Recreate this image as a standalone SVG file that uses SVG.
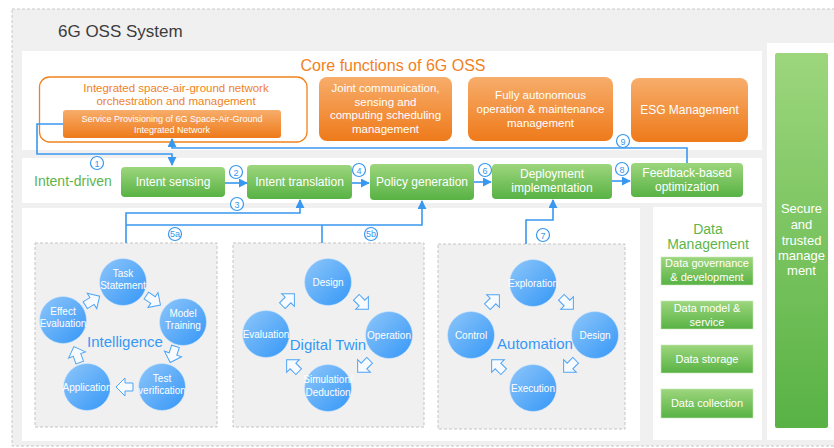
<svg xmlns="http://www.w3.org/2000/svg" width="834" height="448" viewBox="0 0 834 448">
<defs>
<linearGradient id="gOr" x1="0" y1="0" x2="0" y2="1"><stop offset="0" stop-color="#f7ad6b"/><stop offset="1" stop-color="#ee7a1a"/></linearGradient>
<linearGradient id="gGr" x1="0" y1="0" x2="0" y2="1"><stop offset="0" stop-color="#9dd67d"/><stop offset="1" stop-color="#58b244"/></linearGradient>
<linearGradient id="gBl" x1="0" y1="0" x2="1" y2="1"><stop offset="0" stop-color="#8ec6fa"/><stop offset="1" stop-color="#3597f7"/></linearGradient>
<marker id="ar" viewBox="0 0 10 10" refX="9" refY="5" markerWidth="9" markerHeight="9" markerUnits="userSpaceOnUse" orient="auto"><path d="M0,0 L10,5 L0,10 z" fill="#3898f0"/></marker>
<path id="ha" d="M-8,-4 H0 V-9 L9,0 L0,9 V4 H-8 Z"/>
</defs>
<style>
.t{font-family:"Liberation Sans",Arial,sans-serif}
.or{fill:url(#gOr)}
.gr{fill:url(#gGr)}
.bl{fill:url(#gBl);stroke:#cfe5fb;stroke-width:0.6}
.wt{fill:#ffffff;text-anchor:middle}
.gt{fill:#ffffff;text-anchor:middle;font-size:12px}
.ct{fill:#ffffff;text-anchor:middle;font-size:10px}
.lab{fill:#3598f5;text-anchor:middle;font-size:15px}
.ln{fill:none;stroke:#3898f0;stroke-width:1.6}
.num circle{fill:#ffffff;stroke:#3898f0;stroke-width:1.2}
.num text{fill:#3898f0;text-anchor:middle;font-size:9px;font-family:"Liberation Sans",Arial,sans-serif}
.hol{fill:#f7fbff;stroke:#4fa4f4;stroke-width:1}
.dash{fill:#f0f0f0;stroke:#c4c4c4;stroke-width:1;stroke-dasharray:3,2}
</style>
<rect x="0" y="0" width="834" height="448" fill="#ffffff"/>
<rect x="12" y="9" width="830" height="437" fill="#f0f0f0" stroke="#c8c8c8" stroke-dasharray="3,2"/>
<text class="t" x="58" y="37" font-size="17" fill="#3c3c3c">6G OSS System</text>

<g id="core-panel">
<rect x="22" y="51" width="740" height="99" fill="#ffffff"/>
<text class="t" x="393" y="71" font-size="16" fill="#f0821e" text-anchor="middle">Core functions of 6G OSS</text>
</g>
<g id="orchestration">
<rect x="39.5" y="77" width="267.5" height="65" rx="10" fill="#ffffff" stroke="#f0821e" stroke-width="1.3"/>
<text class="t" x="176" y="92" font-size="11.5" fill="#f0821e" text-anchor="middle">Integrated space-air-ground network</text>
<text class="t" x="176" y="105" font-size="11.5" fill="#f0821e" text-anchor="middle">orchestration and management</text>
</g>
<g id="service-provisioning">
<rect class="or" x="63" y="110" width="218" height="28" rx="3"/>
<text class="t wt" x="172" y="122" font-size="9">Service Provisioning of 6G Space-Air-Ground</text>
<text class="t wt" x="172" y="132.5" font-size="9">Integrated Network</text>
</g>
<g id="joint">
<rect class="or" x="319" y="77" width="133" height="64" rx="8"/>
<text class="t wt" x="385.5" y="92" font-size="11.5">Joint communication,</text>
<text class="t wt" x="385.5" y="106" font-size="11.5">sensing and</text>
<text class="t wt" x="385.5" y="119" font-size="11.5">computing scheduling</text>
<text class="t wt" x="385.5" y="133" font-size="11.5">management</text>
</g>
<g id="autonomous">
<rect class="or" x="468" y="77" width="145" height="64" rx="8"/>
<text class="t wt" x="540.5" y="99" font-size="11.5">Fully autonomous</text>
<text class="t wt" x="540.5" y="113" font-size="11.5">operation &amp; maintenance</text>
<text class="t wt" x="540.5" y="127" font-size="11.5">management</text>
</g>
<g id="esg">
<rect class="or" x="631" y="78" width="117" height="64" rx="8"/>
<text class="t wt" x="689.5" y="114" font-size="12">ESG Management</text>
</g>

<g id="intent-panel">
<rect x="22" y="158" width="740" height="45" fill="#ffffff"/>
<text class="t" x="34" y="186" font-size="14" fill="#5db54a">Intent-driven</text>
</g>
<g id="intent-sensing"><rect class="gr" x="121" y="167" width="104" height="30" rx="4"/><text class="t gt" x="173" y="186">Intent sensing</text></g>
<g id="intent-translation"><rect class="gr" x="247" y="165" width="105" height="34" rx="4"/><text class="t gt" x="299.5" y="186">Intent translation</text></g>
<g id="policy-generation"><rect class="gr" x="370" y="164" width="104" height="36" rx="4"/><text class="t gt" x="422" y="186">Policy generation</text></g>
<g id="deployment"><rect class="gr" x="492" y="164" width="120" height="35" rx="4"/><text class="t gt" x="552" y="178">Deployment</text><text class="t gt" x="552" y="192">implementation</text></g>
<g id="feedback"><rect class="gr" x="631" y="163" width="112" height="34" rx="4"/><text class="t gt" x="687" y="177">Feedback-based</text><text class="t gt" x="687" y="191">optimization</text></g>

<rect x="22" y="208" width="618" height="233" fill="#ffffff"/>

<g id="intelligence">
<rect class="dash" x="35" y="243" width="182" height="184"/>
<circle class="bl" cx="123" cy="282" r="23.5"/><text class="t ct" x="123" y="277">Task</text><text class="t ct" x="123" y="289">Statement</text>
<circle class="bl" cx="183" cy="322" r="23.5"/><text class="t ct" x="183" y="317">Model</text><text class="t ct" x="183" y="329">Training</text>
<circle class="bl" cx="162" cy="387" r="23.5"/><text class="t ct" x="162" y="382">Test</text><text class="t ct" x="162" y="394">verification</text>
<circle class="bl" cx="87" cy="387" r="23.5"/><text class="t ct" x="87" y="391">Application</text>
<circle class="bl" cx="63" cy="320" r="23.5"/><text class="t ct" x="63" y="315">Effect</text><text class="t ct" x="63" y="327">Evaluation</text>
<text class="t lab" x="125" y="347">Intelligence</text>
<use href="#ha" class="hol" transform="translate(153,300) rotate(34)"/>
<use href="#ha" class="hol" transform="translate(173,354) rotate(108)"/>
<use href="#ha" class="hol" transform="translate(125,387) rotate(180)"/>
<use href="#ha" class="hol" transform="translate(77,355) rotate(250)"/>
<use href="#ha" class="hol" transform="translate(92,301) rotate(-32)"/>
</g>

<g id="digital-twin">
<rect class="dash" x="233" y="243" width="191" height="184"/>
<circle class="bl" cx="328" cy="282" r="23.5"/><text class="t ct" x="328" y="286" font-size="11">Design</text>
<circle class="bl" cx="389" cy="335" r="23.5"/><text class="t ct" x="389" y="339">Operation</text>
<circle class="bl" cx="328" cy="388" r="23.5"/><text class="t ct" x="328" y="383">Simulation/</text><text class="t ct" x="328" y="396">Deduction</text>
<circle class="bl" cx="266" cy="334" r="23.5"/><text class="t ct" x="266" y="338">Evaluation</text>
<text class="t lab" x="328" y="350">Digital Twin</text>
<use href="#ha" class="hol" transform="translate(362,303) rotate(45)"/>
<use href="#ha" class="hol" transform="translate(364,366) rotate(135)"/>
<use href="#ha" class="hol" transform="translate(293,366) rotate(225)"/>
<use href="#ha" class="hol" transform="translate(288,300) rotate(315)"/>
</g>

<g id="automation">
<rect class="dash" x="438" y="244" width="187" height="185"/>
<circle class="bl" cx="533" cy="283" r="23.5"/><text class="t ct" x="533" y="287">Exploration</text>
<circle class="bl" cx="595" cy="335" r="23.5"/><text class="t ct" x="595" y="339" font-size="11">Design</text>
<circle class="bl" cx="533" cy="388" r="23.5"/><text class="t ct" x="533" y="392">Execution</text>
<circle class="bl" cx="471" cy="335" r="23.5"/><text class="t ct" x="471" y="339" font-size="11">Control</text>
<text class="t lab" x="535" y="349">Automation</text>
<use href="#ha" class="hol" transform="translate(567,303) rotate(45)"/>
<use href="#ha" class="hol" transform="translate(570,366) rotate(135)"/>
<use href="#ha" class="hol" transform="translate(498,366) rotate(225)"/>
<use href="#ha" class="hol" transform="translate(493,301) rotate(315)"/>
</g>

<g id="data-management">
<rect x="653" y="207" width="109" height="233" fill="#ffffff"/>
<text class="t" x="708" y="234" font-size="14" fill="#5db54a" text-anchor="middle">Data</text>
<text class="t" x="708" y="249" font-size="14" fill="#5db54a" text-anchor="middle">Management</text>
<rect class="gr" x="661" y="257" width="92" height="28" stroke="#c8e8b8" stroke-width="0.6"/>
<text class="t wt" x="707" y="267" font-size="11">Data governance</text><text class="t wt" x="707" y="281" font-size="11">&amp; development</text>
<rect class="gr" x="661" y="301" width="92" height="28" stroke="#c8e8b8" stroke-width="0.6"/>
<text class="t wt" x="707" y="312" font-size="11">Data model &amp;</text><text class="t wt" x="707" y="326" font-size="11">service</text>
<rect class="gr" x="661" y="345" width="92" height="28" stroke="#c8e8b8" stroke-width="0.6"/>
<text class="t wt" x="707" y="363" font-size="11">Data storage</text>
<rect class="gr" x="661" y="389" width="92" height="29" stroke="#c8e8b8" stroke-width="0.6"/>
<text class="t wt" x="707" y="407" font-size="11">Data collection</text>
</g>

<g id="secure">
<rect x="767" y="43" width="67" height="397" fill="#ffffff"/>
<rect class="gr" x="775" y="53" width="53" height="375" rx="2"/>
<text class="t wt" x="801.5" y="213" font-size="13">Secure</text>
<text class="t wt" x="801.5" y="229" font-size="13">and</text>
<text class="t wt" x="801.5" y="245" font-size="13">trusted</text>
<text class="t wt" x="801.5" y="260" font-size="13">manage</text>
<text class="t wt" x="801.5" y="275" font-size="13">ment</text>
</g>

<g id="connectors">
<path class="ln" d="M63,124 H37 V154 H172 V165" marker-end="url(#ar)"/>
<path class="ln" d="M687,163 V148 H172 V139" marker-end="url(#ar)"/>
<path class="ln" d="M225,183 H247" marker-end="url(#ar)"/>
<path class="ln" d="M352,183 H369" marker-end="url(#ar)"/>
<path class="ln" d="M474,182 H491" marker-end="url(#ar)"/>
<path class="ln" d="M612,181 H630" marker-end="url(#ar)"/>
<path class="ln" d="M126,243 V213 H300 V200" marker-end="url(#ar)"/>
<path class="ln" d="M126,225 H422 V201" marker-end="url(#ar)"/>
<path class="ln" d="M322,243 V225"/>
<path class="ln" d="M526,244 V220 H553 V200" marker-end="url(#ar)"/>
<g class="num"><circle cx="97" cy="163" r="6.5"/><text x="97" y="166.5">1</text></g>
<g class="num"><circle cx="236" cy="172" r="6.5"/><text x="236" y="175.5">2</text></g>
<g class="num"><circle cx="237" cy="204" r="6.5"/><text x="237" y="207.5">3</text></g>
<g class="num"><circle cx="359" cy="170" r="6.5"/><text x="359" y="173.5">4</text></g>
<g class="num"><circle cx="485" cy="170" r="6.5"/><text x="485" y="173.5">6</text></g>
<g class="num"><circle cx="622" cy="169" r="6.5"/><text x="622" y="172.5">8</text></g>
<g class="num"><circle cx="623" cy="141" r="6.5"/><text x="623" y="144.5">9</text></g>
<g class="num"><circle cx="175" cy="234" r="6.5"/><text x="175" y="237" font-size="8">5a</text></g>
<g class="num"><circle cx="371" cy="234" r="6.5"/><text x="371" y="237" font-size="8">5b</text></g>
<g class="num"><circle cx="543" cy="235" r="6.5"/><text x="543" y="238.5">7</text></g>
</g>
</svg>
